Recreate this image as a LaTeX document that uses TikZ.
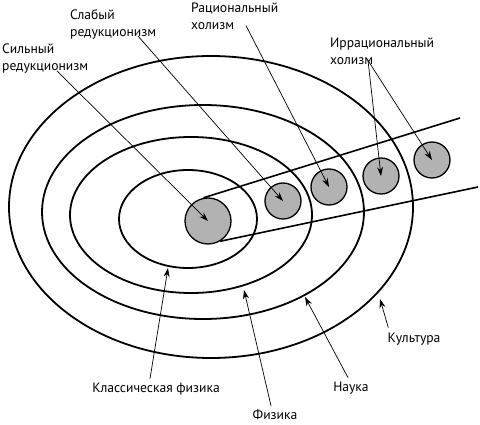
\documentclass[tikz,border=0pt]{standalone}
\usepackage{fontspec}
\setmainfont{PT Sans}
\usetikzlibrary{arrows.meta,calc}

\begin{document}
\begin{tikzpicture}[x=1pt,y=-1pt,
  ring/.style={draw,line width=1.8pt},
  ball/.style={circle,draw,line width=1.3pt,fill=ballgray,inner sep=0pt},
  lbl/.style={inner sep=0pt,align=left,font=\fontsize{13.6}{17}\selectfont},
  arr/.style={-{Stealth[length=9pt,width=6pt]},line width=0.7pt}]
\definecolor{ballgray}{RGB}{178,178,178}
\useasboundingbox (0,0) rectangle (480,425);

% rings
\draw[ring] (211,207) ellipse [x radius=202pt,y radius=151pt];
\draw[ring] (203,212) ellipse [x radius=161pt,y radius=107pt];
\draw[ring] (191,215) ellipse [x radius=121pt,y radius=78pt];
\draw[ring] (188,219) ellipse [x radius=69pt,y radius=49pt];

% tube with balls
\node[ball,minimum size=46pt] at (208,221) (c0) {};
\node[ball,minimum size=36pt] at (283,201) (c1) {};
\node[ball,minimum size=36pt] at (329,187) (c2) {};
\node[ball,minimum size=36pt] at (381,176) (c3) {};
\node[ball,minimum size=36pt] at (432,160) (c4) {};
\coordinate (t1) at (460,118);
\coordinate (t2) at (478,187);
\draw[line width=1.6pt] (c0.101) -- (t1);
\draw[line width=1.6pt] (c0.-59) -- (t2);

% labels
\node[lbl,anchor=west] at (2,59) (sred) {Сильный\\редукционизм};
\node[lbl,anchor=west] at (70,24) (wred) {Слабый\\редукционизм};
\node[lbl,anchor=west] at (191,16) (rhol) {Рациональный\\холизм};
\node[lbl,anchor=west] at (330,51) (ihol) {Иррациональный\\холизм};
\node[lbl] at (414,339) (cult) {Культура};
\node[lbl] at (351,388) (sci) {Наука};
\node[lbl] at (275,415) (phys) {Физика};
\node[lbl] at (156,389) (cphys) {Классическая физика};

% pointers
\draw[arr] ($(sred.south west)+(55,-3)$) -- (c0.center);
\draw[arr] ($(wred.south west)+(68,-3)$) -- (c1.center);
\draw[arr] ($(rhol.south west)+(55,-4)$) -- (c2.center);
\draw[arr] ($(ihol.south west)+(38,-4)$) -- (c3.center);
\draw[arr] ($(ihol.south west)+(38,-4)$) -- (c4.center);
\draw[arr] ($(cult.north west)+(1,-5)$) -- (380,299);
\draw[arr] ($(sci.north)+(-3,-4)$) -- (305,297);
\draw[arr] ($(phys.north)+(-4,-4)$) -- (244,290);
\draw[arr] ($(cphys.north)+(-6,-4)$) -- (168,268);
\end{tikzpicture}
\end{document}
